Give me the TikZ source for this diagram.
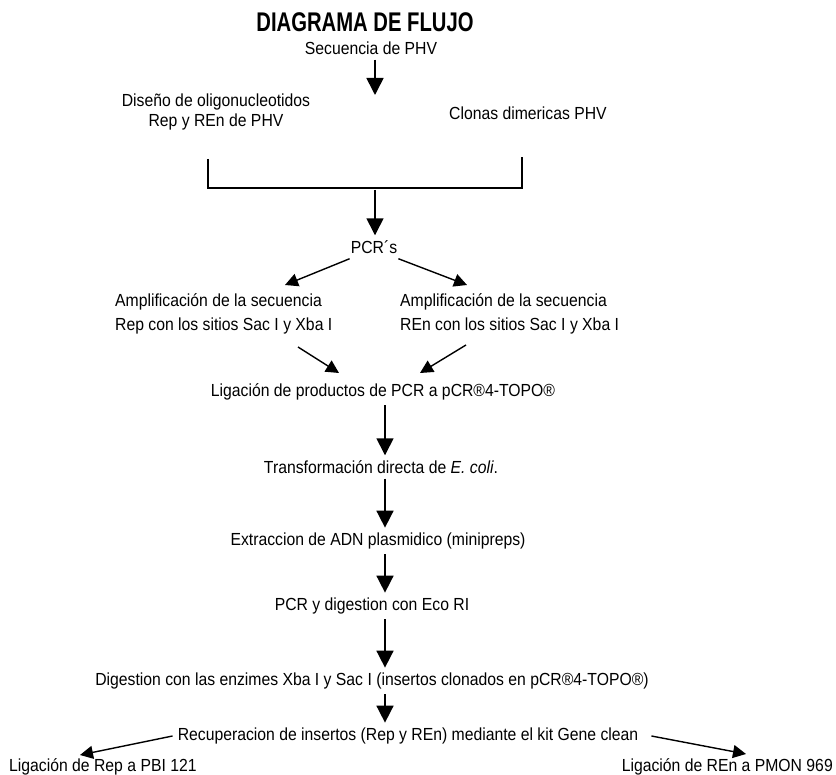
\documentclass[tikz,border=0pt]{standalone}
\usepackage{fontspec}
\setmainfont{Liberation Sans}[FakeStretch=0.9]
\newfontfamily\titlefont{Liberation Sans}[FakeStretch=0.75]
\usetikzlibrary{arrows.meta, positioning, calc}

\begin{document}
\begin{tikzpicture}[x=1pt, y=-1pt, >={Triangle[width=17pt, length=17pt]},
    every node/.style={inner sep=3pt, font=\fontsize{17.5}{20}\selectfont},
    flow/.style={->, line width=1.6pt, shorten <=2pt, shorten >=2pt},
    side/.style={-{Triangle[width=13pt, length=13pt]}, line width=1.4pt}]
    \useasboundingbox (0, 0) rectangle (836, 775);

    \node (Title) at (365, 22) [font=\titlefont\bfseries\fontsize{27}{27}\selectfont] {DIAGRAMA DE FLUJO};
    \node (Seq) at (371, 48) {Secuencia de PHV};
    \coordinate (Split) at (375, 97);

    \node (Design) at (216, 112) [align=center] {Diseño de oligonucleotidos\\Rep y REn de PHV};
    \node (Clones) at (446, 113) [anchor=west] {Clonas dimericas PHV};

    \coordinate (BrL) at (208, 159);
    \coordinate (BrR) at (522, 157);
    \coordinate (BrM) at (375, 188);

    \node (PCR) at (374, 247) {PCR´s};
    \node (AmpRep) at (112, 314) [anchor=west, align=left, font=\fontsize{17.5}{24}\selectfont] {Amplificación de la secuencia\\Rep con los sitios Sac I y Xba I};
    \node (AmpREn) at (397, 314) [anchor=west, align=left, font=\fontsize{17.5}{24}\selectfont] {Amplificación de la secuencia\\REn con los sitios Sac I y Xba I};

    \node (Lig) at (383, 392) {Ligación de productos de PCR a pCR®4-TOPO®};
    \node (Trans) at (381, 467) {Transformación directa de \textit{E. coli}.};
    \node (Extr) at (378, 541) {Extraccion de ADN plasmidico (minipreps)};
    \node (PCRDig) at (372, 606) {PCR y digestion con Eco RI};
    \node (Dig) at (372, 681) {Digestion con las enzimes Xba I y Sac I (insertos clonados en pCR®4-TOPO®)};
    \node (Rec) at (408, 736) {Recuperacion de insertos (Rep y REn) mediante el kit Gene clean};

    \node (LigRep) at (6, 767) [anchor=west] {Ligación de Rep a PBI 121};
    \node (LigREn) at (836, 767) [anchor=east] {Ligación de REn a PMON 969};

    \coordinate (Axis) at (385, 0);
    \coordinate (TipA) at (285, 285);
    \coordinate (TipB) at (467, 285);
    \coordinate (FromA) at (298, 347);
    \coordinate (FromB) at (466, 345);
    \coordinate (TipC) at (339, 373);
    \coordinate (TipD) at (420, 373);
    \coordinate (TipE) at (80, 755);
    \coordinate (TipF) at (746, 754);

    \draw[flow] (Seq.south -| Split) -- (Split);
    \draw[line width=1.3pt] (BrL) |- (BrM) -| (BrR);
    \draw[flow] (BrM) -- (PCR.north -| BrM);

    \draw[side] ([shift={(2, 2)}]PCR.south west) -- (TipA);
    \draw[side] ([shift={(-2, 2)}]PCR.south east) -- (TipB);
    \draw[side] (FromA) -- (TipC);
    \draw[side] (FromB) -- (TipD);

    \draw[flow] (Lig.south -| Axis) -- (Trans.north -| Axis);
    \draw[flow] (Trans.south -| Axis) -- (Extr.north -| Axis);
    \draw[flow] (Extr.south -| Axis) -- (PCRDig.north -| Axis);
    \draw[flow] (PCRDig.south -| Axis) -- (Dig.north -| Axis);
    \draw[flow] (Dig.south -| Axis) -- (Rec.north -| Axis);

    \draw[side] ([xshift=-2pt]Rec.west) -- (TipE);
    \draw[side] ([xshift=10pt]Rec.east) -- (TipF);
\end{tikzpicture}
\end{document}
